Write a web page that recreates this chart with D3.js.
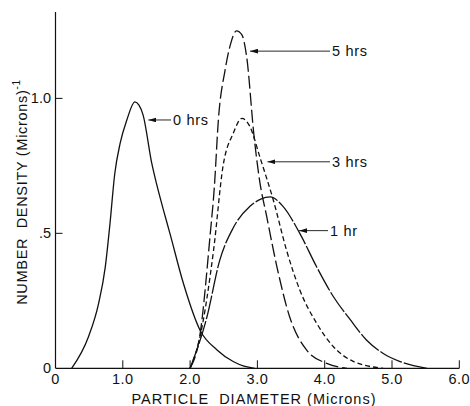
<!DOCTYPE html>
<html>
<head>
<meta charset="utf-8">
<script src="https://cdn.jsdelivr.net/npm/d3@7"></script>
<style>
  body { margin: 0; background: #fff; }
  svg text { font-family: "Liberation Sans", Arial, sans-serif; fill: #111; }
</style>
</head>
<body>
<div id="chart"></div>
<script>
// curves: [diameter (microns), number density]
var hrs0 = [[0.24,0],[0.49,0.117],[0.64,0.24],[0.74,0.376],[0.81,0.537],[0.88,0.72],[0.96,0.833],[1.06,0.92],[1.18,0.987],[1.24,0.975],[1.30,0.94],[1.43,0.76],[1.50,0.685],[1.60,0.59],[1.70,0.50],[1.90,0.315],[2.15,0.14],[2.40,0.068],[2.64,0.025],[2.80,0.008],[2.96,0]];
var hrs5 = [[2.0,0],[2.15,0.13],[2.30,0.50],[2.36,0.67],[2.42,0.92],[2.52,1.105],[2.60,1.20],[2.69,1.25],[2.77,1.235],[2.84,1.155],[2.95,0.86],[3.03,0.70],[3.14,0.56],[3.29,0.376],[3.48,0.19],[3.73,0.068],[4.03,0.018],[4.33,0]];
var hrs3 = [[2.0,0],[2.15,0.12],[2.35,0.44],[2.49,0.75],[2.64,0.87],[2.77,0.926],[2.89,0.895],[3.04,0.78],[3.24,0.62],[3.43,0.44],[3.63,0.29],[3.88,0.167],[4.13,0.08],[4.43,0.025],[4.87,0]];
var hrs1 = [[2.0,0],[2.25,0.19],[2.44,0.40],[2.64,0.52],[2.89,0.60],[3.05,0.627],[3.19,0.635],[3.38,0.60],[3.63,0.50],[3.88,0.376],[4.13,0.265],[4.38,0.18],[4.62,0.105],[4.87,0.055],[5.12,0.025],[5.52,0]];

var xTicks = [0, 1, 2, 3, 4, 5, 6];
var xTickLabels = ["0", "1.0", "2.0", "3.0", "4.0", "5.0", "6.0"];
var yTicks = [0, 0.5, 1.0];
var yTickLabels = ["0", ".5", "1.0"];

// label text, point on curve the arrow hits, x of the label
var labels = [
  {text: "0 hrs", at: [1.35, 0.92], tx: 173},
  {text: "5 hrs", at: [2.86, 1.175], tx: 332},
  {text: "3 hrs", at: [3.12, 0.765], tx: 332},
  {text: "1 hr",  at: [3.59, 0.51], tx: 330}
];

var width = 470, height = 406;
var x = d3.scaleLinear().domain([0, 6]).range([55.5, 459.3]);
var y = d3.scaleLinear().domain([0, 1.32]).range([368.3, 12]);

var svg = d3.select("#chart").append("svg")
    .attr("width", width)
    .attr("height", height);

// axes: left and bottom lines, ticks inward
svg.append("line").attr("x1", x(0)).attr("x2", x(0)).attr("y1", y(1.32)).attr("y2", y(0))
    .attr("stroke", "#111").attr("stroke-width", 1.2);
svg.append("line").attr("x1", x(0)).attr("x2", x(6)).attr("y1", y(0)).attr("y2", y(0))
    .attr("stroke", "#111").attr("stroke-width", 1.2);

svg.selectAll(".xt").data(xTicks.slice(1)).enter().append("line")
    .attr("x1", function(d){ return x(d); }).attr("x2", function(d){ return x(d); })
    .attr("y1", y(0)).attr("y2", y(0) - 8)
    .attr("stroke", "#111").attr("stroke-width", 1);
svg.selectAll(".yt").data(yTicks.slice(1)).enter().append("line")
    .attr("x1", x(0)).attr("x2", x(0) + 7)
    .attr("y1", function(d){ return y(d); }).attr("y2", function(d){ return y(d); })
    .attr("stroke", "#111").attr("stroke-width", 1);

svg.selectAll(".xl").data(xTicks).enter().append("text")
    .attr("x", function(d){ return x(d); })
    .attr("y", 384)
    .attr("text-anchor", "middle")
    .attr("font-size", 14.5)
    .attr("letter-spacing", 0.5)
    .text(function(d, i){ return xTickLabels[i]; });
svg.selectAll(".yl").data(yTicks).enter().append("text")
    .attr("x", 51)
    .attr("y", function(d){ return y(d) + 5; })
    .attr("text-anchor", "end")
    .attr("font-size", 14.5)
    .text(function(d, i){ return yTickLabels[i]; });

svg.append("text")
    .attr("x", 254).attr("y", 404)
    .attr("text-anchor", "middle")
    .attr("font-size", 14.5)
    .attr("letter-spacing", 1)
    .attr("xml:space", "preserve")
    .text("PARTICLE  DIAMETER (Microns)");

var yt = svg.append("text")
    .attr("transform", "translate(27,192) rotate(-90)")
    .attr("text-anchor", "middle")
    .attr("font-size", 14.5)
    .attr("letter-spacing", 0.7)
    .attr("xml:space", "preserve");
yt.append("tspan").text("NUMBER  DENSITY (Microns)");
yt.append("tspan").attr("dy", -7).attr("font-size", 10).text("-1");

// curves
var line = d3.line()
    .x(function(d){ return x(d[0]); })
    .y(function(d){ return y(d[1]); })
    .curve(d3.curveMonotoneX);

var series = [
  {data: hrs0, dash: null},
  {data: hrs5, dash: "13,4"},
  {data: hrs3, dash: "5,3"},
  {data: hrs1, dash: "24,2"}
];
svg.selectAll(".curve").data(series).enter().append("path")
    .attr("d", function(s){ return line(s.data); })
    .attr("fill", "none")
    .attr("stroke", "#111")
    .attr("stroke-width", 1.3)
    .attr("stroke-dasharray", function(s){ return s.dash; });

// label arrows
svg.append("defs").append("marker")
    .attr("id", "arr").attr("viewBox", "0 0 10 6")
    .attr("refX", 10).attr("refY", 3)
    .attr("markerWidth", 8).attr("markerHeight", 5)
    .attr("markerUnits", "userSpaceOnUse")
    .attr("orient", "auto")
    .append("path").attr("d", "M0,0L10,3L0,6Z").attr("fill", "#111");

labels.forEach(function(l){
  var ax = x(l.at[0]) + 2, ay = y(l.at[1]);
  svg.append("line")
      .attr("x1", l.tx - 2).attr("x2", ax)
      .attr("y1", ay).attr("y2", ay)
      .attr("stroke", "#111").attr("stroke-width", 0.9)
      .attr("marker-end", "url(#arr)");
  svg.append("text")
      .attr("x", l.tx).attr("y", ay + 5)
      .attr("font-size", 14.5)
      .attr("letter-spacing", 0.7)
      .text(l.text);
});
</script>
</body>
</html>
